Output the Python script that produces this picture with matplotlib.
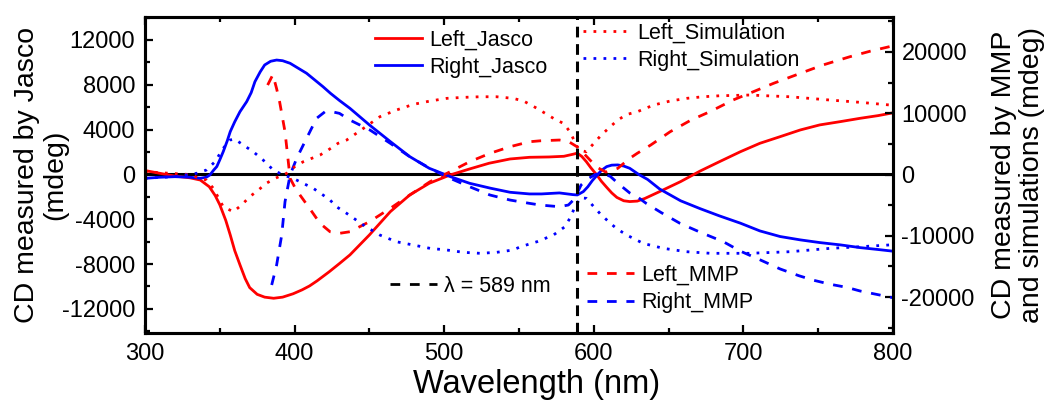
import matplotlib
matplotlib.use("Agg")
import matplotlib.pyplot as plt
from matplotlib.lines import Line2D
from matplotlib.ticker import MultipleLocator

plt.rcParams['font.family'] = ['Liberation Sans', 'DejaVu Sans']
plt.rcParams['axes.unicode_minus'] = False

# Jasco measurements (left axis, mdeg)
wl_left_jasco = [300, 310, 320, 330, 337, 343, 347, 350, 354, 357, 360, 363.5, 367, 370, 375, 380, 386,
                 392, 399, 405, 410, 415, 423, 430, 437, 450, 464, 477, 490, 504, 517, 530, 544, 557, 570,
                 580, 586, 589, 592, 595, 598, 602, 605, 608.6, 612, 615.4, 620, 624, 629, 634, 644,
                 658, 671, 684, 698, 711, 724.5, 738, 751, 764.6, 778, 790, 800]
left_jasco = [350, 100, -150, -300, -500, -1100, -1900, -2700, -4100, -5400, -6800, -8070, -9300, -10100,
              -10700, -10950, -11050, -10950, -10650, -10300, -9950, -9500, -8700, -7950, -7180, -5400, -3320,
              -1830, -790, -45, 490, 1000, 1380, 1530, 1560, 1620, 1800, 1900, 1600, 1140, 600, -45,
              -600, -1150, -1650, -2050, -2350, -2420, -2380, -2150, -1530, -640, 300, 1140, 2030, 2780,
              3370, 3970, 4420, 4710, 5010, 5250, 5500]

wl_right_jasco = [300, 310, 320, 330, 337, 341, 343.4, 346, 348, 350, 352.3, 355, 357, 360, 363.5, 368,
                  371, 373.5, 377, 380, 384, 388, 392, 397, 408, 419, 424, 430, 437, 450, 464, 477, 490,
                  504, 517, 531, 544, 557, 565, 577, 586, 589, 593, 596, 599, 602, 605, 608.6, 612, 616,
                  620, 624, 630, 636, 644, 658, 671, 684, 698, 711, 724.5, 738, 751, 765, 778, 790, 800]
right_jasco = [-350, -250, -200, -250, -340, -250, -45, 400, 700, 1300, 2030, 3000, 3820, 4700, 5600,
               6500, 7300, 8280, 9150, 9770, 10100, 10210, 10150, 9920, 9030, 7830, 7240, 6600, 5900,
               4420, 2930, 1590, 550, -190, -790, -1230, -1590, -1740, -1740, -1650, -1800, -1830,
               -1530, -1100, -550, -100, 350, 700, 830, 850, 750, 550, 0, -450, -1300, -2350, -3050,
               -3700, -4350, -5040, -5540, -5840, -6080, -6290, -6530, -6700, -6850]

# MMP (right axis, mdeg)
wl_left_mmp = [382, 385.5, 388, 390, 393.6, 395.8, 397, 400, 403.6, 410, 417, 423.7, 430, 437, 450, 464,
               477, 490.5, 504, 517, 530.6, 544, 557, 564, 577, 583, 589, 595, 602, 608, 616, 624, 629,
               638, 651, 665, 678, 693, 706.6, 720, 738, 753, 771, 785, 800]
left_mmp = [14600, 16300, 14000, 11870, 6980, 2090, -620, -2000, -3340, -5510, -7960, -9330, -9590, -9330,
            -7700, -5510, -3340, -1170, 460, 2090, 3460, 4540, 5350, 5500, 5630, 5400, 4500, 3000, 1200,
            400, 1010, 2640, 3460, 4810, 6980, 8890, 10300, 12150, 13510, 14870, 16510, 17860, 19210,
            20140, 21000]

wl_right_mmp = [384.7, 388, 391.4, 393.6, 397, 401.4, 408, 414.7, 420.3, 424, 430, 437, 450.4, 464, 477,
                490.5, 504, 517, 530.6, 544, 557, 564, 577, 583, 587, 591.5, 596, 601, 606, 611, 617.5,
                624, 630, 635, 645, 657.6, 671, 686.6, 698, 711, 724.5, 737, 747, 758, 769, 778, 790, 800]
right_mmp = [-18020, -14760, -9870, -4440, -80, 2640, 5900, 9170, 10240, 10300, 9980, 8890, 7260, 5090,
             2900, 1010, -620, -1990, -3340, -4160, -4700, -4970, -5250, -4970, -4000, -1700, -700, 0,
             200, -300, -1710, -3000, -3800, -4700, -6200, -7960, -9400, -10960, -12500, -13900, -15400,
             -16500, -17250, -17900, -18400, -19000, -19600, -20100]

# Simulations (right axis, mdeg)
wl_left_sim = [300, 310, 320, 330, 335.6, 341, 345.7, 352.3, 359, 364.6, 370, 375.8, 381, 387, 394.7, 400,
               405.8, 411.4, 417, 422.5, 429, 434.8, 446, 457, 468, 479.4, 490.5, 501.7, 512.8, 524, 535,
               546, 553, 562, 573, 580, 584, 587, 590, 595, 600, 605, 611, 616, 622, 629, 640, 651, 662,
               673, 684, 704, 731, 758, 778, 800]
left_sim = [500, 300, 150, 0, -520, -900, -2250, -5250, -6070, -4970, -3620, -2530, -1440, -620, 200, 1270,
            2090, 2640, 3180, 4000, 5090, 5630, 7530, 9430, 10520, 11450, 11990, 12430, 12590, 12690,
            12690, 12430, 12000, 10800, 9170, 8300, 6980, 5500, 4000, 3720, 5090, 6440, 7800, 8890, 9800,
            10240, 11340, 11990, 12430, 12690, 12850, 12970, 12690, 12150, 11780, 11300]

wl_right_sim = [300, 320, 334.5, 341, 346.8, 352.3, 356.8, 360, 365.7, 372.4, 379, 385.8, 392.4, 399,
                405.8, 412.5, 419, 423.7, 428, 434.8, 446, 457, 468, 479.4, 490.5, 501.7, 512.8, 524, 535,
                546, 551, 562, 573, 580.7, 584, 587, 591, 595, 600, 605, 610, 615, 622, 633, 646.5, 662,
                678, 704, 731, 758, 778, 800]
right_sim = [-600, -340, 200, 730, 2090, 4270, 5630, 5790, 4810, 3720, 2360, 730, -80, -620, -1440, -2250,
             -3340, -4160, -5250, -6330, -8240, -9870, -10960, -11500, -12040, -12310, -12690, -12850,
             -12690, -12310, -11780, -10960, -9870, -8510, -7140, -5500, -3800, -3880, -5250, -6600,
             -7700, -8780, -9870, -11230, -12040, -12590, -12850, -12850, -12590, -12040, -11780, -11450]

wl_marker = 589

red = '#ff0000'
blue = '#0000ff'
lw = 2.0
dash = (3.5, 3.5)
dot = (1, 2.6)

fig = plt.figure(figsize=(10.52, 4.03), dpi=100)
ax = fig.add_axes([0.1378, 0.1737, 0.7111, 0.7841])
ax2 = ax.twinx()

ax.plot(wl_left_jasco, left_jasco, color=red, lw=lw)
ax.plot(wl_right_jasco, right_jasco, color=blue, lw=lw)
ax.axhline(0, color='black', lw=2.2, zorder=1)

ax2.plot(wl_left_mmp, left_mmp, color=red, lw=lw, dashes=dash)
ax2.plot(wl_right_mmp, right_mmp, color=blue, lw=lw, dashes=dash)
ax2.plot(wl_left_sim, left_sim, color=red, lw=lw, dashes=dot)
ax2.plot(wl_right_sim, right_sim, color=blue, lw=lw, dashes=dot)
ax2.axvline(wl_marker, color='black', lw=2.2, dashes=(3.5, 2.2), zorder=5)

ax.set_xlim(300, 800)
ax.set_ylim(-14150, 14050)
ax2.set_ylim(-25850, 25700)

ax.xaxis.set_major_locator(MultipleLocator(100))
ax.xaxis.set_minor_locator(MultipleLocator(50))
ax.yaxis.set_major_locator(MultipleLocator(4000))
ax.yaxis.set_minor_locator(MultipleLocator(2000))
ax2.yaxis.set_major_locator(MultipleLocator(10000))
ax2.yaxis.set_minor_locator(MultipleLocator(5000))

ax.tick_params(which='both', direction='in', top=True, right=False, width=1.6, labelsize=17, pad=7)
ax.tick_params(which='major', length=6)
ax.tick_params(which='minor', length=3.5)
ax2.tick_params(which='both', direction='in', width=1.6, labelsize=17, pad=6)
ax2.tick_params(which='major', length=6)
ax2.tick_params(which='minor', length=3.5)

for a in (ax, ax2):
    for s in a.spines.values():
        s.set_linewidth(2.2)

ax.set_xlabel('Wavelength (nm)', fontsize=23.5)
ax.xaxis.set_label_coords(0.5234, -0.115)
ax.set_ylabel('CD measured by Jasco\n(mdeg)', fontsize=20.5, linespacing=1.1)
ax.yaxis.set_label_coords(-0.103, 0.5)
ax2.set_ylabel('CD measured by MMP\nand simulations (mdeg)', fontsize=20.5, linespacing=1.1, rotation=90)
ax2.yaxis.set_label_coords(1.131, 0.5)

leg_kw = dict(frameon=False, fontsize=15.5, borderpad=0, borderaxespad=0, handlelength=2.2,
              handletextpad=0.3, labelspacing=0.3, loc='center left')

h_jasco = [Line2D([], [], color=red, lw=lw), Line2D([], [], color=blue, lw=lw)]
h_sim = [Line2D([], [], color=red, lw=lw, dashes=dot), Line2D([], [], color=blue, lw=lw, dashes=dot)]
h_mark = [Line2D([], [], color='black', lw=lw, dashes=dash)]
h_mmp = [Line2D([], [], color=red, lw=lw, dashes=dash), Line2D([], [], color=blue, lw=lw, dashes=dash)]

l1 = ax2.legend(h_jasco, ['Left_Jasco', 'Right_Jasco'], bbox_to_anchor=(0.3075, 0.884), **leg_kw)
ax2.add_artist(l1)
l2 = ax2.legend(h_sim, ['Left_Simulation', 'Right_Simulation'], bbox_to_anchor=(0.5856, 0.9066), **leg_kw)
ax2.add_artist(l2)
l3 = ax2.legend(h_mark, ['\u03bb = 589 nm'], bbox_to_anchor=(0.3275, 0.1487), **leg_kw)
ax2.add_artist(l3)
l4 = ax2.legend(h_mmp, ['Left_MMP', 'Right_MMP'], bbox_to_anchor=(0.591, 0.1392), **leg_kw)

fig.savefig('out.png', dpi=100)
